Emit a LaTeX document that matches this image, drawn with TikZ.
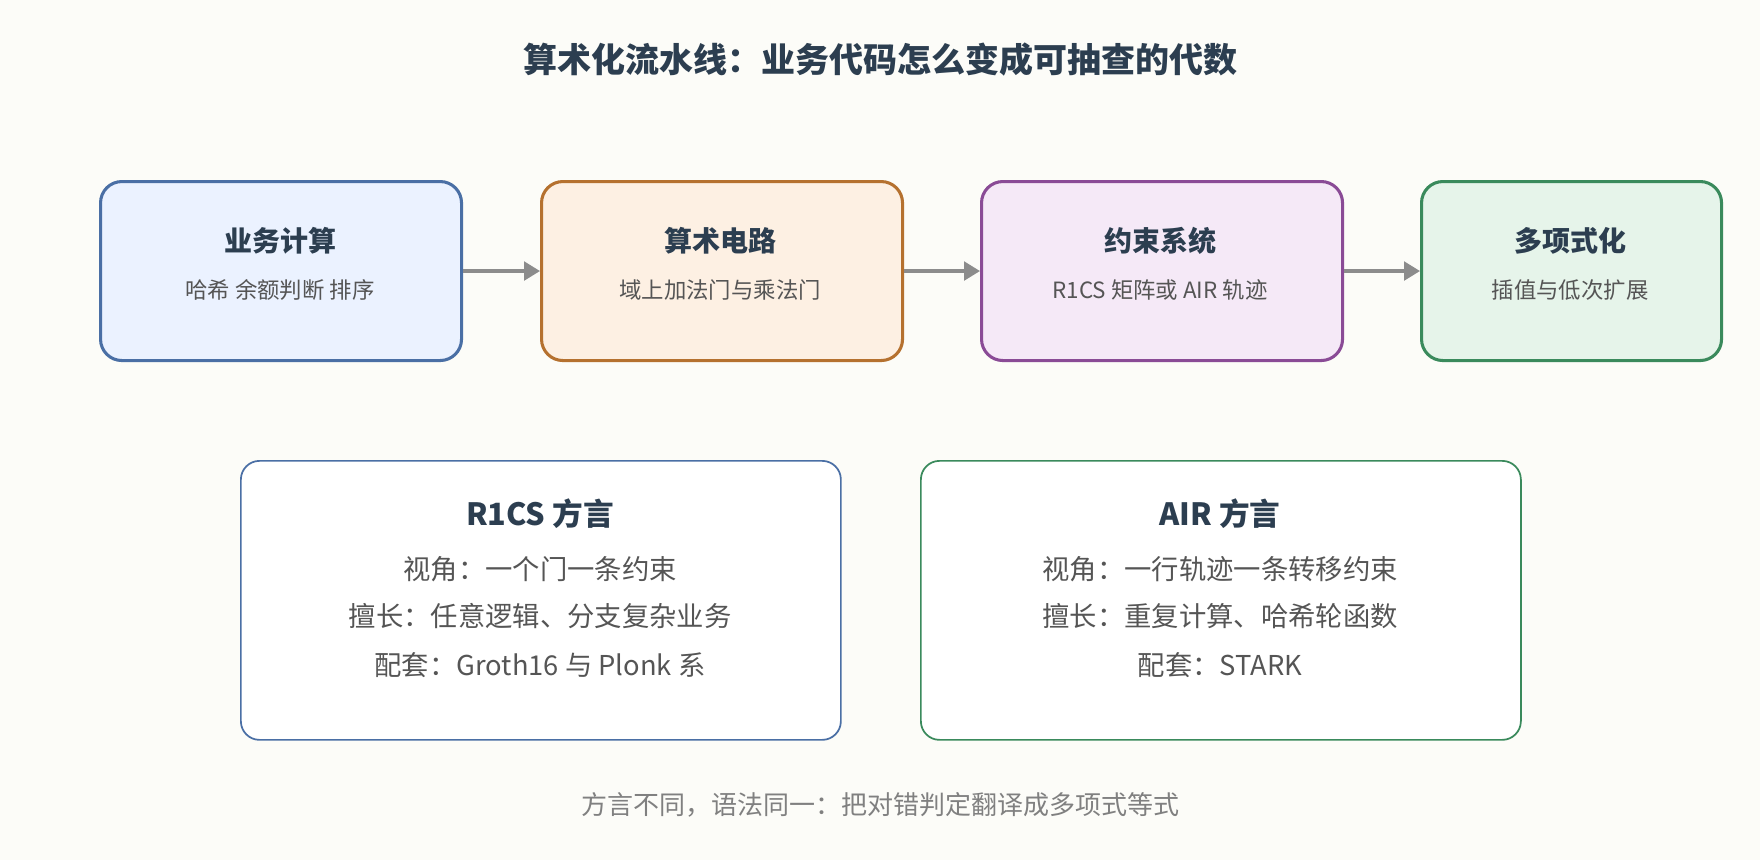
\documentclass[tikz,border=0pt]{standalone}
\usepackage{fontspec}
\setmainfont{Noto Sans CJK SC}
\usetikzlibrary{arrows.meta}
\definecolor{bg}{HTML}{FCFCF8}
\definecolor{tdark}{HTML}{2C3E50}
\definecolor{tsub}{HTML}{555555}
\begin{document}
\begin{tikzpicture}[x=0.75pt,y=-0.75pt,
 box/.style={draw,rounded corners=16pt,line width=2.3pt,anchor=north west},
 big/.style={draw,rounded corners=14pt,line width=1.3pt,fill=white,anchor=north west},
 ttl/.style={font=\fontsize{21}{25}\selectfont\bfseries,text=tdark},
 sub/.style={font=\fontsize{16.8}{20}\selectfont,text=tsub},
 ln/.style={font=\fontsize{20.5}{24}\selectfont,text=tsub},
 arr/.style={draw=gray!90,line width=2.5pt,-{Triangle[length=12pt,width=14pt]}}]
\fill[bg] (0,0) rectangle (1760,860);
\node[font=\fontsize{25.5}{30}\selectfont\bfseries,text=tdark] (title) at (880,60) {算术化流水线：业务代码怎么变成可抽查的代数};
\node[box,draw={rgb,255:red,74;green,111;blue,165},fill={rgb,255:red,235;green,242;blue,255},minimum width=361pt*0.75,minimum height=179pt*0.75] (b1) at (99,180) {};
\node[box,draw={rgb,255:red,181;green,113;blue,47},fill={rgb,255:red,253;green,240;blue,227},minimum width=361pt*0.75,minimum height=179pt*0.75] (b2) at (540,180) {};
\node[box,draw={rgb,255:red,138;green,75;blue,150},fill={rgb,255:red,245;green,233;blue,247},minimum width=361pt*0.75,minimum height=179pt*0.75] (b3) at (980,180) {};
\node[box,draw={rgb,255:red,58;green,138;blue,92},fill={rgb,255:red,230;green,244;blue,234},minimum width=300pt*0.75,minimum height=179pt*0.75] (b4) at (1420,180) {};
\node[ttl] (t1) at (280,241) {业务计算};
\node[sub] (s1) at (280,290) {哈希 余额判断 排序};
\node[ttl] (t2) at (720,241) {算术电路};
\node[sub] (s2) at (720,290) {域上加法门与乘法门};
\node[ttl] (t3) at (1160,241) {约束系统};
\node[sub] (s3) at (1160,290) {R1CS 矩阵或 AIR 轨迹};
\node[ttl] (t4) at (1570,241) {多项式化};
\node[sub] (s4) at (1570,290) {插值与低次扩展};
\draw[arr] (b1.east) -- (b2.west);
\draw[arr] (b2.east) -- (b3.west);
\draw[arr] (b3.east) -- (b4.west);
\node[big,draw={rgb,255:red,74;green,111;blue,165},minimum width=600pt*0.75,minimum height=279pt*0.75] (r) at (240,460) {};
\node[big,draw={rgb,255:red,58;green,138;blue,92},minimum width=600pt*0.75,minimum height=279pt*0.75] (a) at (920,460) {};
\node[font=\fontsize{23}{27}\selectfont\bfseries,text=tdark] (rt) at (540,514) {R1CS 方言};
\node[ln] (r1) at (540,569) {视角：一个门一条约束};
\node[ln] (r2) at (540,616) {擅长：任意逻辑、分支复杂业务};
\node[ln] (r3) at (540,665) {配套：Groth16 与 Plonk 系};
\node[font=\fontsize{23}{27}\selectfont\bfseries,text=tdark] (at) at (1220,514) {AIR 方言};
\node[ln] (a1) at (1220,569) {视角：一行轨迹一条转移约束};
\node[ln] (a2) at (1220,616) {擅长：重复计算、哈希轮函数};
\node[ln] (a3) at (1220,665) {配套：STARK};
\node[font=\fontsize{19.5}{23}\selectfont,text=gray] (f) at (880,805) {方言不同，语法同一：把对错判定翻译成多项式等式};
\end{tikzpicture}
\end{document}
